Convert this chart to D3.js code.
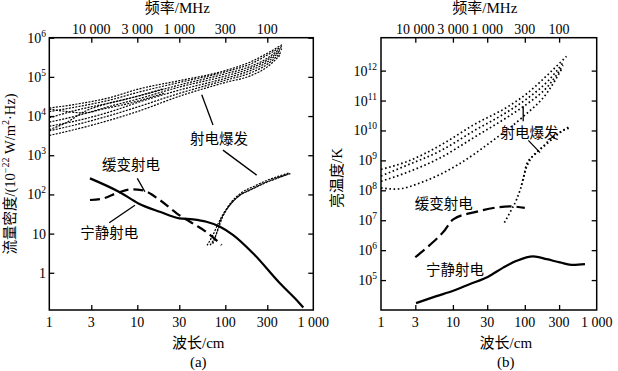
<!DOCTYPE html>
<html><head><meta charset="utf-8">
<script src="https://cdn.jsdelivr.net/npm/d3@7"></script>
<style>body{margin:0;background:#fff}svg{display:block}</style>
</head><body><svg id="c" width="618" height="371"></svg>
<script>
// ---------- data ----------
const wavelengthTicks = [1, 3, 10, 30, 100, 300, 1000];
const wavelengthLabels = ["1", "3", "10", "30", "100", "300", "1 000"];
const freqTicks = [10000, 3000, 1000, 300, 100];          // MHz
const freqLabels = ["10 000", "3 000", "1 000", "300", "100"];
const fluxTicks = [1, 10, 1e2, 1e3, 1e4, 1e5, 1e6];
const tempTicks = [1e5, 1e6, 1e7, 1e8, 1e9, 1e10, 1e11, 1e12];

// panel (a): flux density, 10^-22 W/(m^2 Hz)  [wavelength cm, value]
const quietFlux = [[2.9,257],[6.4,112],[10.3,59],[18,36],[30,24.5],[43,23],[61,20],[87,15],[123,9.2],[208,3.1],[420,0.53],[676,0.18],[770,0.13]];
const slowFlux  = [[2.9,72],[4.1,79],[6.1,112],[8.6,134],[11.2,129],[18,72],[28,33],[43,18],[61,11],[91,5.1]];
const burstFlux1 = [[1,1.6e4],[2,2.0e4],[5,3.0e4],[10,4.8e4],[30,8.0e4],[100,1.45e5],[200,2.5e5],[300,4.0e5],[440,6.6e5]];
const burstFlux2 = [[1,1.3e4],[2,1.7e4],[5,2.6e4],[10,4.0e4],[30,7.2e4],[100,1.35e5],[200,2.2e5],[300,3.6e5],[450,6.2e5]];
const burstFlux3 = [[1,9e3],[2,1.4e4],[5,2.2e4],[10,3.2e4],[30,6.2e4],[100,1.2e5],[200,1.9e5],[300,3.0e5],[430,5.5e5]];
const burstFlux4 = [[1,7e3],[2,1.0e4],[5,1.8e4],[10,2.7e4],[30,5.5e4],[100,1.05e5],[200,1.7e5],[300,2.7e5],[440,5.2e5]];
const burstFlux5 = [[1,5.5e3],[2,7.5e3],[5,1.3e4],[10,2.2e4],[30,4.6e4],[100,9.2e4],[200,1.5e5],[300,2.4e5],[420,4.5e5]];
const burstFlux6 = [[1,4.2e3],[2,6e3],[5,1.05e4],[10,1.7e4],[30,3.8e4],[100,8.2e4],[200,1.3e5],[300,2.1e5],[430,4.2e5]];
const burstFlux7 = [[1,3.2e3],[2,4.6e3],[5,8e3],[10,1.3e4],[30,3.2e4],[100,7.2e4],[200,1.1e5],[300,1.8e5],[420,3.6e5]];
const burstFluxCross1 = [[1,4.5e3],[1.6,7e3],[2.5,1.3e4],[4,1.9e4],[8,2.8e4],[20,5e4]];
const burstFluxCross2 = [[1,1.5e4],[1.6,1.3e4],[2.5,1.2e4],[4,1.5e4],[8,2.1e4],[20,3.8e4]];
const burstFluxLowA = [[67,5.1],[78,9],[87,20],[100,36],[113,54],[147,96],[208,143],[295,210],[420,280],[560,345]];
const burstFluxLowB = [[72,5.5],[82,12],[92,25],[105,45],[120,68],[150,108],[210,160],[300,230],[420,300],[540,360]];
const burstFluxLowC = [[62,5],[72,9],[82,17],[95,32],[110,50],[140,88],[200,135],[290,200],[400,265],[520,330]];

// panel (b): brightness temperature, K
const quietTemp = [[3.07,1.7e4],[5.9,2.9e4],[10.1,4.4e4],[17.3,7.4e4],[31,1.3e5],[50,2.6e5],[77,4.4e5],[131,6.2e5],[202,5e5],[309,3.9e5],[473,3.2e5],[687,3.4e5]];
const slowTemp  = [[3,5.8e5],[4.8,1.5e6],[7.4,4.1e6],[10.1,1.07e7],[21,1.9e7],[62,2.9e7],[100,2.6e7]];
const burstTemp1 = [[1,5e8],[2.4,9.5e8],[7,3.4e9],[20,1.6e10],[60,6.5e10],[110,1.8e11],[210,7.4e11],[380,3e12]];
const burstTemp2 = [[1,3e8],[2,6e8],[7,2.2e9],[20,1e10],[60,4.5e10],[110,1.2e11],[210,4.5e11],[350,2e12]];
const burstTemp3 = [[1,2e8],[2,3.5e8],[7,1.3e9],[20,6e9],[60,3e10],[110,8e10],[210,3e11],[340,1.5e12]];
const burstTemp4 = [[1,1.2e8],[1.6,1.1e8],[4,2e8],[12,7.4e8],[35,4.4e9],[90,2.6e10],[210,2e11],[330,1.2e12]];
const burstTempLowA = [[52,8.3e6],[62,1.8e7],[77,5e7],[95,2.3e8],[106,7.4e8],[139,1.6e9],[172,2.6e9],[237,5.8e9],[326,9.5e9],[427,1.23e10]];
const burstTempLowB = [[90,1.5e8],[100,4e8],[120,1.1e9],[150,2e9],[200,3.5e9],[270,6.5e9],[360,1.1e10],[430,1.4e10]];

// annotations [wavelength, value]
const labelsA = [
  {text:"射电爆发", at:[85, 2900]},
  {text:"缓变射电", at:[8.5, 630]},
  {text:"宁静射电", at:[4.8, 11.1]}
];
const leadersA = [
  [[54, 3.5e4],[72.5, 5.9e3]],
  [[94, 1350],[227, 311]],
  [[10, 257],[12.2, 117]],
  [[4.8, 18.9],[9.4, 53]]
];
const labelsB = [
  {text:"射电爆发", at:[116, Math.pow(10,9.98)]},
  {text:"缓变射电", at:[7.45, Math.pow(10,7.59)]},
  {text:"宁静射电", at:[10.7, Math.pow(10,5.39)]}
];
const leadersB = [
  [[95, Math.pow(10,10.81)],[95, Math.pow(10,10.31)]],
  [[112, Math.pow(10,9.67)],[163, Math.pow(10,9.26)]]
];

// ---------- drawing ----------
const SERIF = "'Liberation Serif','Times New Roman','Noto Sans CJK SC',serif";
const CJK = "'Noto Sans CJK SC','Liberation Serif',sans-serif";
const svg = d3.select("#c");
svg.append("rect").attr("width",618).attr("height",371).attr("fill","#fff");

const xA = d3.scaleLog().domain([1,1000]).range([49.3,313.3]);
const yA = d3.scaleLog().domain([Math.pow(10,-0.95),1e6]).range([310,37.7]);
const xB = d3.scaleLog().domain([1,1000]).range([381,596.7]);
const yB = d3.scaleLog().domain([1e4,Math.pow(10,13.1)]).range([310,37.7]);

function powLabel(sel, v){
  const e = Math.round(Math.log10(v));
  if (e === 0) { sel.text("1"); return; }
  if (e === 1) { sel.text("10"); return; }
  sel.append("tspan").text("10");
  sel.append("tspan").attr("dy",-6).attr("font-size",9.5).text(String(e));
}

function panel(x, y, yTicks, yLabelX, opts){
  const g = svg.append("g");
  const [x0,x1] = x.range(), [y1,y0] = y.range();
  const inner = [3,10,30,100,300];
  const tick = s => { s.select(".domain").remove(); s.selectAll("line").attr("stroke","#000").attr("stroke-width",1.3); };
  g.append("g").attr("transform",`translate(0,${y1})`).call(d3.axisBottom(x).tickValues(inner).tickSize(-5).tickFormat("")).call(tick);
  g.append("g").attr("transform",`translate(0,${y0})`).call(d3.axisTop(x).tickValues(freqTicks.map(f=>30000/f)).tickSize(-5).tickFormat("")).call(tick);
  g.append("g").attr("transform",`translate(${x0},0)`).call(d3.axisLeft(y).tickValues(yTicks).tickSize(-5).tickFormat("")).call(tick);
  g.append("g").attr("transform",`translate(${x1},0)`).call(d3.axisRight(y).tickValues(yTicks).tickSize(-5).tickFormat("")).call(tick);
  g.append("rect").attr("x",x0).attr("y",y0).attr("width",x1-x0).attr("height",y1-y0)
    .attr("fill","none").attr("stroke","#000").attr("stroke-width",1.5);

  wavelengthTicks.forEach((v,i)=>{
    g.append("text").attr("x",x(v)).attr("y",y1+17).attr("text-anchor","middle")
      .attr("font-family",SERIF).attr("font-size",14).text(wavelengthLabels[i]);
  });
  freqTicks.forEach((f,i)=>{
    g.append("text").attr("x",x(30000/f)).attr("y",y0-4).attr("text-anchor","middle")
      .attr("font-family",SERIF).attr("font-size",14).text(freqLabels[i]);
  });
  yTicks.forEach(v=>{
    const t = g.append("text").attr("x",yLabelX).attr("y",y(v)+5).attr("text-anchor","end")
      .attr("font-family",SERIF).attr("font-size",14);
    powLabel(t, v);
  });
  const cx = (x0+x1)/2;
  g.append("text").attr("x",cx-4).attr("y",13).attr("text-anchor","middle")
    .attr("font-family",SERIF).attr("font-size",15).text("频率/MHz");
  g.append("text").attr("x",cx+17).attr("y",348).attr("text-anchor","middle")
    .attr("font-family",SERIF).attr("font-size",15).text("波长/cm");
  g.append("text").attr("x",cx+17).attr("y",367).attr("text-anchor","middle")
    .attr("font-family",SERIF).attr("font-size",15).text(opts.tag);
  return g;
}

const gA = panel(xA, yA, fluxTicks, 46, {tag:"(a)"});
const gB = panel(xB, yB, tempTicks, 377, {tag:"(b)"});

// y titles
const tA = svg.append("text").attr("transform","translate(15,174) rotate(-90)")
  .attr("text-anchor","middle").attr("font-family",SERIF).attr("font-size",14.5);
tA.append("tspan").text("流量密度/(10");
tA.append("tspan").attr("dy",-6).attr("font-size",10).text("−22");
tA.append("tspan").attr("dy",6).text(" W/m");
tA.append("tspan").attr("dy",-6).attr("font-size",10).text("2");
tA.append("tspan").attr("dy",6).text("·Hz)");
svg.append("text").attr("transform","translate(342,178) rotate(-90)")
  .attr("text-anchor","middle").attr("font-family",SERIF).attr("font-size",15).text("亮温度/K");

function curve(g, x, y, data, style){
  const line = d3.line().x(d=>x(d[0])).y(d=>y(d[1])).curve(d3.curveMonotoneX);
  g.append("path").attr("d",line(data)).attr("fill","none").attr("stroke","#000")
    .attr("stroke-width",style.w).attr("stroke-dasharray",style.dash||null);
}
const SOLID = {w:2.2};
const DASH = {w:2.2, dash:"10,5"};
const DOTA = {w:1.2, dash:"2,1.3"};
const DOTB = {w:1.7, dash:"1.6,2.6"};

[burstFlux1,burstFlux2,burstFlux3,burstFlux4,burstFlux5,burstFlux6,burstFlux7,
 burstFluxCross1,burstFluxCross2,
 burstFluxLowA,burstFluxLowB,burstFluxLowC].forEach(d=>curve(gA,xA,yA,d,DOTA));
curve(gA,xA,yA,quietFlux,SOLID);
curve(gA,xA,yA,slowFlux,DASH);

[burstTemp1,burstTemp2,burstTemp3,burstTemp4,burstTempLowA,burstTempLowB].forEach(d=>curve(gB,xB,yB,d,DOTB));
curve(gB,xB,yB,quietTemp,SOLID);
curve(gB,xB,yB,slowTemp,{w:2.2, dash:"12,5"});

function annotate(g, x, y, labels, leaders){
  leaders.forEach(l=>{
    g.append("line").attr("x1",x(l[0][0])).attr("y1",y(l[0][1])).attr("x2",x(l[1][0])).attr("y2",y(l[1][1]))
      .attr("stroke","#000").attr("stroke-width",1.3);
  });
  labels.forEach(l=>{
    g.append("text").attr("x",x(l.at[0])).attr("y",y(l.at[1])).attr("text-anchor","middle")
      .attr("dominant-baseline","central").attr("font-family",CJK).attr("font-size",14.5)
      .attr("fill","#000").text(l.text);
  });
}
annotate(gA,xA,yA,labelsA,leadersA);
annotate(gB,xB,yB,labelsB,leadersB);
</script></body></html>
